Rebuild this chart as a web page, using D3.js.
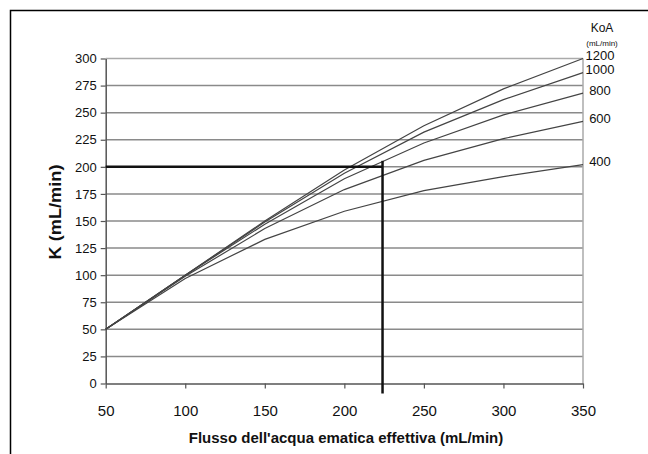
<!DOCTYPE html>
<html>
<head>
<meta charset="utf-8">
<script src="https://cdn.jsdelivr.net/npm/d3@7"></script>
<style>
  body { margin: 0; background: #fff; }
  text { font-family: "Liberation Sans", Arial, sans-serif; fill: #111; }
</style>
</head>
<body>
<script>
// blood flow (x) and clearance curves per KoA
var flows = [50, 100, 150, 200, 250, 300, 350];
var koaLabels = ["400", "600", "800", "1000", "1200"];
var k400 = [50, 97, 133, 159, 178, 191, 202];
var k600 = [50, 99, 143, 179, 206, 226, 242];
var k800 = [50, 100, 147, 189, 222, 248, 268];
var k1000 = [50, 100, 149, 194, 232, 262, 287];
var k1200 = [50, 100, 150, 197, 238, 272, 300];
var xTicks = [50, 100, 150, 200, 250, 300, 350];
var yTicks = [0, 25, 50, 75, 100, 125, 150, 175, 200, 225, 250, 275, 300];
var targetFlow = 224, targetK = 200;

var width = 648, height = 454;
var series = [k400, k600, k800, k1000, k1200];

var svg = d3.select("body").append("svg")
    .attr("width", width)
    .attr("height", height);

// frame (top and left only)
svg.append("path")
    .attr("d", "M10.5,454 V10.5 H648")
    .attr("fill", "none")
    .attr("stroke", "#000")
    .attr("stroke-width", 1.5);

var x = d3.scaleLinear().domain([50, 350]).range([105.7, 583]);
var y = d3.scaleLinear().domain([0, 300]).range([383.5, 58.5]);

// gridlines
svg.append("g").selectAll("line")
    .data(yTicks.filter(function(d) { return d > 0; }))
  .enter().append("line")
    .attr("x1", x(50)).attr("x2", x(350))
    .attr("y1", function(d) { return y(d); })
    .attr("y2", function(d) { return y(d); })
    .attr("stroke", function(d) { return d == 300 ? "#aaa" : "#8a8a8a"; })
    .attr("stroke-width", 1.5);

svg.append("line")
    .attr("x1", x(350)).attr("x2", x(350))
    .attr("y1", y(300)).attr("y2", y(0))
    .attr("stroke", "#aaa")
    .attr("stroke-width", 1.5);

// axes
var yAxis = svg.append("g")
    .attr("transform", "translate(" + x(50) + ",0)")
    .call(d3.axisLeft(y).tickValues(yTicks).tickSize(5).tickPadding(4).tickSizeOuter(0));
yAxis.selectAll("text").style("font-size", "13px");

var xAxis = svg.append("g")
    .attr("transform", "translate(0," + y(0) + ")")
    .call(d3.axisBottom(x).tickValues(xTicks).tickSize(5).tickPadding(17).tickSizeOuter(0));
xAxis.selectAll("text").style("font-size", "15px");

svg.selectAll(".domain").attr("stroke", "#555").attr("stroke-width", 1.5);
svg.selectAll(".tick line").attr("stroke", "#555").attr("stroke-width", 1.2);
svg.selectAll(".tick text").attr("fill", "#111");

// curves
var line = d3.line()
    .x(function(d, i) { return x(flows[i]); })
    .y(function(d) { return y(d); });

svg.append("g").selectAll("path")
    .data(series)
  .enter().append("path")
    .attr("d", line)
    .attr("fill", "none")
    .attr("stroke", "#444")
    .attr("stroke-width", 1.2);

// curve labels
svg.append("g").selectAll("text")
    .data(series)
  .enter().append("text")
    .attr("x", x(350) + 17)
    .attr("y", function(d) { return y(d[d.length - 1]) - 3; })
    .attr("dy", "0.35em")
    .attr("text-anchor", "middle")
    .style("font-size", "13px")
    .text(function(d, i) { return koaLabels[i]; });

svg.append("text")
    .attr("x", 602).attr("y", 28)
    .attr("dy", "0.35em")
    .attr("text-anchor", "middle")
    .style("font-size", "12px")
    .text("KoA");
svg.append("text")
    .attr("x", 602).attr("y", 43)
    .attr("dy", "0.35em")
    .attr("text-anchor", "middle")
    .style("font-size", "8px")
    .text("(mL/min)");

// reading lines
svg.append("path")
    .attr("d", "M" + x(50) + "," + y(targetK) + " H" + x(targetFlow))
    .attr("stroke", "#111")
    .attr("stroke-width", 2.5);
svg.append("path")
    .attr("d", "M" + x(targetFlow) + "," + (y(targetK) - 6) + " V" + (y(0) + 10))
    .attr("stroke", "#111")
    .attr("stroke-width", 2.5);

// titles
svg.append("text")
    .attr("x", 346).attr("y", 443)
    .attr("text-anchor", "middle")
    .style("font-size", "15px")
    .style("font-weight", "bold")
    .text("Flusso dell'acqua ematica effettiva (mL/min)");

svg.append("text")
    .attr("transform", "translate(61,212) rotate(-90)")
    .attr("text-anchor", "middle")
    .attr("textLength", 95)
    .attr("lengthAdjust", "spacingAndGlyphs")
    .style("font-size", "16px")
    .style("font-weight", "bold")
    .text("K (mL/min)");
</script>
</body>
</html>
